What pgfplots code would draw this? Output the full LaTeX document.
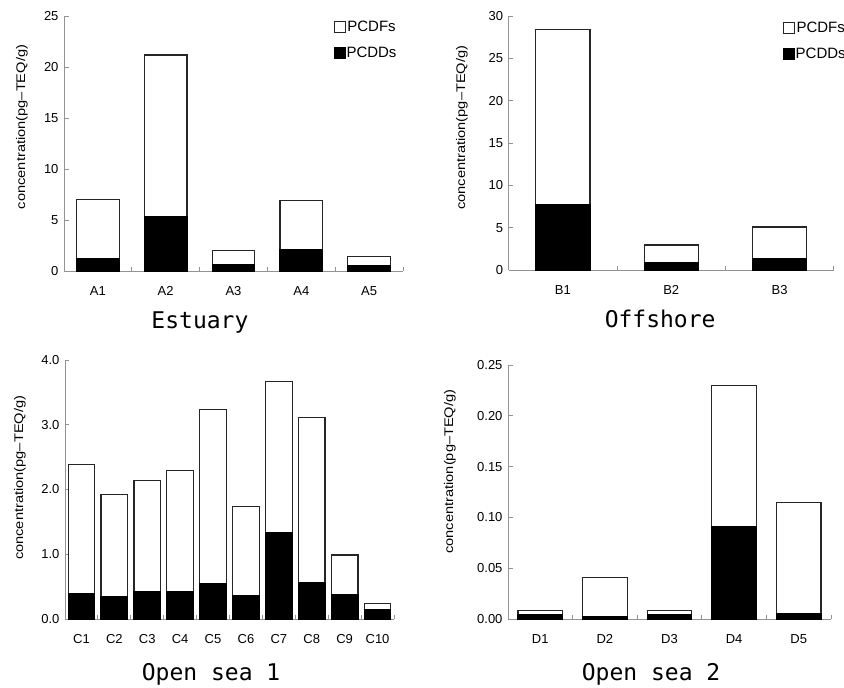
\documentclass[border=0pt]{standalone}
\usepackage{fontspec}
\setmainfont{Liberation Sans}
\newfontfamily\titlefont{DejaVu Sans Mono}
\newfontfamily\widesans[FakeStretch=1.17]{Liberation Sans}
\usepackage{pgfplots}
\usepackage{pgfplotstable}
\pgfplotsset{compat=1.18}

% PCDD and PCDF TEQ concentrations per station (pg-TEQ/g)
\pgfplotstableread{
x pcdd pcdf
1 1.20 5.84
2 5.30 15.87
3 0.60 1.42
4 2.05 4.85
5 0.52 0.91
}\estuary
\pgfplotstableread{
x pcdd pcdf
1 7.67 20.73
2 0.87 2.08
3 1.34 3.73
}\offshore
\pgfplotstableread{
x pcdd pcdf
1 0.400 1.990
2 0.345 1.575
3 0.420 1.720
4 0.420 1.870
5 0.540 2.700
6 0.360 1.375
7 1.330 2.340
8 0.560 2.550
9 0.380 0.610
10 0.144 0.096
}\opensea
\pgfplotstableread{
x pcdd pcdf
1 0.0043 0.0039
2 0.0023 0.0387
3 0.0043 0.0039
4 0.0910 0.1390
5 0.0049 0.1099
}\openseatwo

\newcommand\tickfont{\fontsize{13}{15}\selectfont}
\newcommand\labfont{\widesans\fontsize{12.5}{14}\selectfont}
\newcommand\legfont{\fontsize{15}{17}\selectfont}
\newcommand\ttlfont{\titlefont\fontsize{23}{26}\selectfont}

\pgfplotsset{
  panel/.style={
    scale only axis,
    anchor=south west,
    ybar stacked,
    ymin=0,
    axis x line*=bottom,
    axis y line*=left,
    x axis line style={-},
    y axis line style={-},
    axis line style={draw=gray!85, line width=0.9pt},
    tick style={draw=gray!85, line width=0.8pt},
    major tick length=4.5pt,
    tick align=inside,
    x tick label as interval,
    xticklabel style={font=\tickfont, yshift=-12pt},
    yticklabel style={font=\tickfont, xshift=-2pt},
    /pgf/number format/assume math mode=true,
    ylabel={concentration(pg–TEQ/g)},
    ylabel style={font=\labfont, anchor=center, rotate=0},
    xlabel style={font=\ttlfont, anchor=base},
    legend style={draw=none, fill=none, inner sep=0pt, outer sep=0pt,
      font=\legfont, row sep=12pt, anchor=north west,
      nodes={inner sep=1pt},
      /tikz/every even column/.append style={column sep=1.5pt}},
    legend image code/.code={\draw[##1, line width=1pt] (0pt,-5.5pt) rectangle (11pt,5.5pt);},
    reverse legend,
  },
  dd/.style={fill=black, draw=black, line width=1.2pt},
  df/.style={fill=white, draw=black!85, line width=1.2pt},
}

\begin{document}
\begin{tikzpicture}
\useasboundingbox (0pt,0pt) rectangle (844pt,-688pt);

% Estuary
\begin{axis}[panel,
  at={(64pt,-271pt)}, width=339pt, height=255pt,
  xmin=0.5, xmax=5.5, ymax=25, ytick={0,5,...,25},
  xtick={0.5,1.5,...,5.5}, xticklabels={A1,A2,A3,A4,A5},
  bar width=0.63,
  ylabel style={at={(axis description cs:-0.124,0.565)}},
  xlabel={Estuary},
  xlabel style={at={(axis description cs:0.401,-0.224)}},
  legend style={at={(axis description cs:0.795,0.985)}},
]
\addplot[dd] table[x=x,y=pcdd]{\estuary};
\addplot[df] table[x=x,y=pcdf]{\estuary};
\legend{PCDDs,PCDFs}
\end{axis}

% Offshore
\begin{axis}[panel,
  at={(508.7pt,-270pt)}, width=325pt, height=254pt,
  xmin=0.5, xmax=3.5, ymax=30, ytick={0,5,...,30},
  xtick={0.5,1.5,2.5,3.5}, xticklabels={B1,B2,B3},
  bar width=0.5,
  ylabel style={at={(axis description cs:-0.144,0.56)}},
  xlabel={Offshore},
  xlabel style={at={(axis description cs:0.466,-0.228)}},
  legend style={at={(axis description cs:0.843,0.98)}},
]
\addplot[dd] table[x=x,y=pcdd]{\offshore};
\addplot[df] table[x=x,y=pcdf]{\offshore};
\legend{PCDDs,PCDFs}
\end{axis}

% Open sea 1
\begin{axis}[panel,
  at={(65pt,-619pt)}, width=329pt, height=259pt,
  xmin=0.5, xmax=10.5, ymax=4, ytick={0,1,...,4},
  yticklabel style={/pgf/number format/.cd, fixed, fixed zerofill, precision=1},
  xtick={0.5,1.5,...,10.5}, xticklabels={C1,C2,C3,C4,C5,C6,C7,C8,C9,C10},
  bar width=0.81,
  ylabel style={at={(axis description cs:-0.137,0.545)}},
  xlabel={Open sea 1},
  xlabel style={at={(axis description cs:0.444,-0.239)}},
]
\addplot[dd] table[x=x,y=pcdd]{\opensea};
\addplot[df] table[x=x,y=pcdf]{\opensea};
\end{axis}

% Open sea 2
\begin{axis}[panel,
  at={(508pt,-619pt)}, width=323pt, height=254pt,
  xmin=0.5, xmax=5.5, ymax=0.25, ytick={0,0.05,...,0.25},
  yticklabel style={/pgf/number format/.cd, fixed, fixed zerofill, precision=2},
  xtick={0.5,1.5,...,5.5}, xticklabels={D1,D2,D3,D4,D5},
  bar width=0.69,
  ylabel style={at={(axis description cs:-0.18,0.58)}},
  xlabel={Open sea 2},
  xlabel style={at={(axis description cs:0.443,-0.244)}},
]
\addplot[dd] table[x=x,y=pcdd]{\openseatwo};
\addplot[df] table[x=x,y=pcdf]{\openseatwo};
\end{axis}
\end{tikzpicture}
\end{document}
